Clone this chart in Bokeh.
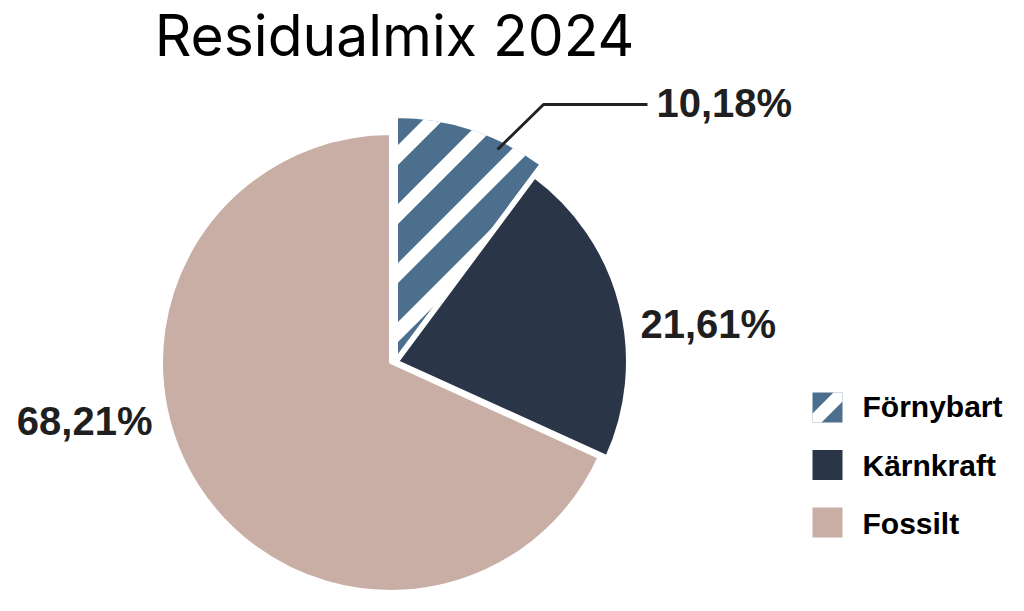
import math
from bokeh.plotting import figure
from bokeh.models import ColumnDataSource, Range1d, Label
from bokeh.core.properties import value
from bokeh.embed import file_html
from bokeh.resources import INLINE

# ---- data ----
categories = ["Förnybart", "Kärnkraft", "Fossilt"]
shares = [10.18, 21.61, 68.21]
share_labels = ["10,18%", "21,61%", "68,21%"]
title_text = "Residualmix 2024"

# ---- style ----
colors = ["#4B6F8D", "#2A3547", "#C8AEA5"]
striped = [True, False, False]
W, H = 1008, 595
cx, cy = 390, 362            # pie centre (page px, y down)
slice_dx = [6, 7, 0]         # explode offsets (page px)
slice_dy = [-4, -1, 0]
slice_r = [242, 230, 229]
STRIPE_PERIOD, STRIPE_LO, STRIPE_HI = 59, 15, 35
BASE_FIX = 0.36  # baseline correction (em)

def Y(y):  # page y (down) -> data y (up)
    return 611 - y

def YB(y, fs):  # page baseline -> data y for text of size fs
    return Y(y - BASE_FIX * fs)

def clip(poly, a, b, c):
    """Keep part of convex polygon with a*x + b*y <= c."""
    out = []
    n = len(poly)
    for i in range(n):
        p1, p2 = poly[i], poly[(i + 1) % n]
        f1 = a * p1[0] + b * p1[1] - c
        f2 = a * p2[0] + b * p2[1] - c
        if f1 <= 0:
            out.append(p1)
        if (f1 < 0 < f2) or (f2 < 0 < f1):
            t = f1 / (f1 - f2)
            out.append((p1[0] + t * (p2[0] - p1[0]), p1[1] + t * (p2[1] - p1[1])))
    return out

def band(poly, ref, lo, hi):
    # band of (y - x) - ref in [lo, hi]
    q = clip(poly, 1, -1, -(lo + ref))
    q = clip(q, -1, 1, hi + ref)
    return q

total = sum(shares)
cum = 0.0
starts, ends = [], []
for s in shares:
    starts.append(math.radians(90 - 360 * cum / total))
    cum += s
    ends.append(math.radians(90 - 360 * cum / total))

xs = [cx + d for d in slice_dx]
ys = [Y(cy + d) for d in slice_dy]

src = ColumnDataSource(dict(x=xs, y=ys, r=slice_r, start=starts, end=ends,
                            color=colors, cat=categories))

p = figure(width=W, height=H, output_backend="svg", toolbar_location=None,
           x_range=Range1d(0, W), y_range=Range1d(611 - H, 611),
           x_axis_location=None, y_axis_location=None, min_border=0,
           outline_line_color=None, background_fill_color="white")
p.grid.visible = False

p.wedge(x="x", y="y", radius="r", start_angle="start", end_angle="end",
        direction="clock", source=src, fill_color="color",
        line_color="white", line_width=3)

# white diagonal stripes on striped slices
stripe_xs, stripe_ys = [], []
for i in range(len(shares)):
    if not striped[i]:
        continue
    n = 80
    poly = [(xs[i], ys[i])]
    for k in range(n + 1):
        a = starts[i] + (ends[i] - starts[i]) * k / n
        poly.append((xs[i] + (slice_r[i] - 1.5) * math.cos(a), ys[i] + (slice_r[i] - 1.5) * math.sin(a)))
    ref = ys[i] - xs[i]
    for k in range(0, 8):
        q = band(poly, ref, STRIPE_LO + k * STRIPE_PERIOD, STRIPE_HI + k * STRIPE_PERIOD)
        if len(q) >= 3:
            stripe_xs.append([pt[0] for pt in q])
            stripe_ys.append([pt[1] for pt in q])

# legend (manual)
LX, LY0, LPITCH, LS = 812, 392, 57.5, 30
leg_x = [LX + LS / 2] * len(categories)
leg_y = [Y(LY0 + i * LPITCH + LS / 2) for i in range(len(categories))]
p.rect(x=leg_x, y=leg_y, width=LS, height=LS, fill_color=colors, line_color=None)
for i in range(len(categories)):
    if not striped[i]:
        continue
    x0, y1 = LX, Y(LY0 + i * LPITCH)
    sq = [(x0, y1 - LS), (x0 + LS, y1 - LS), (x0 + LS, y1), (x0, y1)]
    ref = (y1 - LS) - x0
    q = band(sq, ref, -9, 9)
    stripe_xs.append([pt[0] for pt in q])
    stripe_ys.append([pt[1] for pt in q])

p.patches(xs=stripe_xs, ys=stripe_ys, fill_color="white", line_color=None)

LFS = 30
p.text(x=[LX + LS + 20] * len(categories),
       y=[YB(417 + i * 58.5, LFS) for i in range(len(categories))],
       text=categories, text_align="left", text_baseline="alphabetic",
       text_font=value("Liberation Sans"), text_font_style="bold",
       text_font_size=f"{LFS}px", text_color="black")

# leader line for first slice
p.line(x=[497, 543, 647], y=[Y(149), Y(104), Y(104)], line_color="#222222", line_width=3)

# percentage labels
PFS = 40
lab_x = [656, 640, 152]
lab_y = [YB(117, PFS), YB(338, PFS), YB(435, PFS)]
lab_align = ["left", "left", "right"]
lsrc = ColumnDataSource(dict(x=lab_x, y=lab_y, t=share_labels, a=lab_align))
p.text(x="x", y="y", text="t", source=lsrc, text_align="a", text_baseline="alphabetic",
       text_font=value("Liberation Sans"), text_font_style="bold",
       text_font_size=f"{PFS}px", text_color="#1f1f1f")

# title
TFS = 57
p.add_layout(Label(x=394, y=YB(56, TFS), text=title_text, text_align="center",
                   text_baseline="alphabetic", text_font="Inter",
                   text_font_size=f"{TFS}px", text_color="black"))

open("out.html", "w").write(file_html(p, INLINE))
